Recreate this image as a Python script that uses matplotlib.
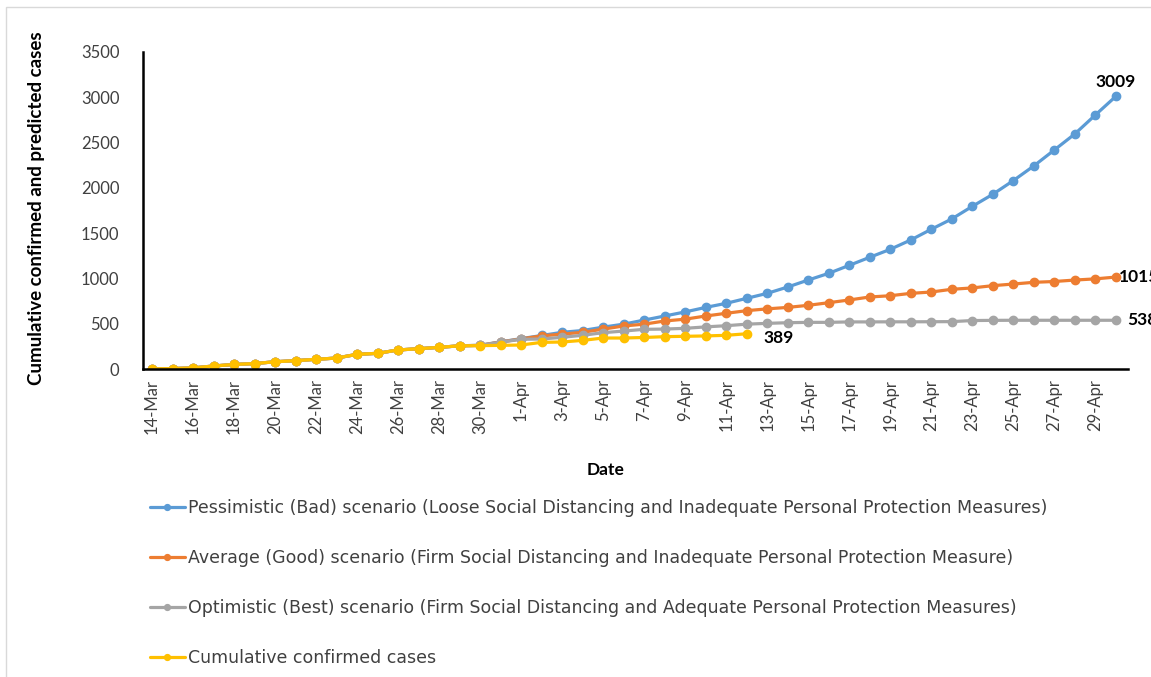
import matplotlib
matplotlib.use("Agg")
import matplotlib.pyplot as plt
from matplotlib.patches import Rectangle

plt.rcParams['font.family'] = ['Lato', 'DejaVu Sans']

dates = ["14-Mar", "15-Mar", "16-Mar", "17-Mar", "18-Mar", "19-Mar", "20-Mar", "21-Mar",
         "22-Mar", "23-Mar", "24-Mar", "25-Mar", "26-Mar", "27-Mar", "28-Mar", "29-Mar",
         "30-Mar", "31-Mar", "1-Apr", "2-Apr", "3-Apr", "4-Apr", "5-Apr", "6-Apr",
         "7-Apr", "8-Apr", "9-Apr", "10-Apr", "11-Apr", "12-Apr", "13-Apr", "14-Apr",
         "15-Apr", "16-Apr", "17-Apr", "18-Apr", "19-Apr", "20-Apr", "21-Apr", "22-Apr",
         "23-Apr", "24-Apr", "25-Apr", "26-Apr", "27-Apr", "28-Apr", "29-Apr", "30-Apr"]

pessimistic = [1, 5, 12, 33, 50, 60, 80, 92, 107, 121, 162, 173, 210, 224, 239, 256,
               262, 300, 335, 370, 405, 425, 462, 495, 540, 585, 630, 680, 725, 780,
               835, 905, 982, 1056, 1144, 1233, 1321, 1424, 1542, 1656, 1795, 1928,
               2079, 2241, 2417, 2594, 2803, 3009]
average = [1, 5, 12, 33, 50, 60, 80, 92, 107, 121, 162, 173, 210, 224, 239, 256,
           261, 298, 332, 365, 385, 405, 440, 475, 495, 530, 550, 585, 615, 644,
           664, 680, 703, 732, 762, 795, 809, 835, 850, 880, 895, 920, 938, 957,
           966, 982, 995, 1015]
optimistic = [1, 5, 12, 33, 50, 60, 80, 92, 107, 121, 162, 173, 210, 224, 239, 256,
              260, 296, 328, 331, 350, 372, 401, 419, 438, 441, 449, 465, 478, 495,
              504, 511, 515, 515, 520, 520, 521, 521, 522, 523, 535, 537, 538, 538,
              538, 538, 538, 538]
confirmed = [1, 5, 12, 33, 50, 60, 80, 92, 107, 121, 162, 173, 210, 224, 239, 256,
             258, 261, 265, 294, 298, 316, 342, 342, 348, 357, 361, 365, 372, 389]

labels = ["Pessimistic (Bad) scenario (Loose Social Distancing and Inadequate Personal Protection Measures)",
          "Average (Good) scenario (Firm Social Distancing and Inadequate Personal Protection Measure)",
          "Optimistic (Best) scenario (Firm Social Distancing and Adequate Personal Protection Measures)",
          "Cumulative confirmed cases"]
colors = ["#5B9BD5", "#ED7D31", "#A5A5A5", "#FFC000"]
yticks = [0, 500, 1000, 1500, 2000, 2500, 3000, 3500]

W, H = 1151, 677
fig = plt.figure(figsize=(W / 100, H / 100), dpi=100)
fig.patches.append(Rectangle((6 / W, -0.1), 1.2, 1 - 7 / H + 0.1, transform=fig.transFigure,
                             fill=False, edgecolor="#D9D9D9", linewidth=1))

ax = fig.add_axes([143 / W, 1 - 369 / H, (1128 - 143) / W, (369 - 52) / H])

series = [pessimistic, average, optimistic, confirmed]
for vals, lab, col in zip(series, labels, colors):
    x = list(range(len(vals)))
    ax.plot(x, vals, color=col, lw=2.3, marker='o', markersize=6, label=lab,
            solid_capstyle='round')

ax.set_xlim(-0.44, 47.6)
ax.set_ylim(0, 3500)
ax.set_yticks(yticks)
ax.set_yticklabels([str(v) for v in yticks])
ax.set_xticks(range(0, len(dates), 2))
ax.set_xticklabels(dates[::2], rotation=90)
ax.tick_params(axis='both', length=0, labelsize=12, colors='#404040')
ax.tick_params(axis='y', pad=17)
ax.tick_params(axis='x', pad=7)
for s in ['top', 'right']:
    ax.spines[s].set_visible(False)
for s in ['left', 'bottom']:
    ax.spines[s].set_linewidth(1.8)
    ax.spines[s].set_color('black')

# data labels
n = len(pessimistic) - 1
ax.annotate(str(pessimistic[-1]), (n, pessimistic[-1]), xytext=(0, 5), textcoords='offset points',
            ha='center', va='bottom', fontsize=12.5, fontweight='bold')
ax.annotate(str(average[-1]), (n, average[-1]), xytext=(2, 0), textcoords='offset points',
            ha='left', va='center', fontsize=12.5, fontweight='bold', annotation_clip=False)
ax.annotate(str(optimistic[-1]), (n, optimistic[-1]), xytext=(8, 0), textcoords='offset points',
            ha='left', va='center', fontsize=12.5, fontweight='bold', annotation_clip=False)
m = len(confirmed) - 1
ax.annotate(str(confirmed[-1]), (m, confirmed[-1]), xytext=(12, -3), textcoords='offset points',
            ha='left', va='center', fontsize=12.5, fontweight='bold')

fig.text(37 / W, 1 - 208 / H, "Cumulative confirmed and predicted cases", rotation=90,
         ha='center', va='center', fontsize=13.5, fontweight='bold')
fig.text(606 / W, 1 - 470 / H, "Date", ha='center', va='center', fontsize=12.5, fontweight='bold')

leg = fig.legend(loc='upper left', bbox_to_anchor=(150 / W, 1 - 499 / H), frameon=False,
                 borderpad=0, borderaxespad=0,
                 prop={'family': 'DejaVu Sans', 'size': 12.5}, labelspacing=1.85,
                 handlelength=2.0, handletextpad=0.2, markerscale=0.7)
for t in leg.get_texts():
    t.set_color('#404040')

fig.savefig("out.png", dpi=100)
